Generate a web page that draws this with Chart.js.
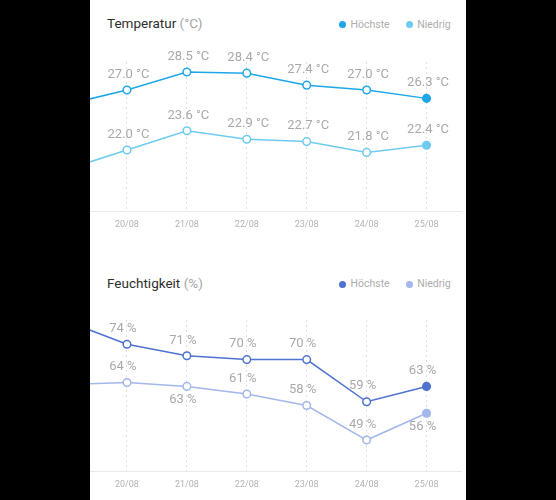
<!DOCTYPE html>
<html>
<head>
<meta charset="utf-8">
<script src="https://cdn.jsdelivr.net/npm/chart.js@4.4.1/dist/chart.umd.min.js"></script>
<style>
  html, body { margin: 0; padding: 0; background: #000; }
  body { width: 556px; height: 500px; position: relative; overflow: hidden; font-family: Roboto, "Noto Sans", sans-serif; }
  #panel { position: absolute; left: 90px; top: 0; width: 376px; height: 500px; background: #fff; }
  .title { position: absolute; left: 17px; font-size: 13.5px; line-height: 16px; color: #2e2e2e; white-space: nowrap; }
  .title span { color: #a5a5a5; }
  .legend { position: absolute; left: 249px; display: flex; gap: 16px; font-size: 10.5px; line-height: 12px; color: #adadad; }
  .legend .item { display: flex; align-items: center; }
  .legend .dot { width: 7px; height: 7px; border-radius: 50%; margin-right: 4.5px; }
  canvas { position: absolute; left: 0; }
</style>
</head>
<body>
<div id="panel">
  <div class="title" style="top:15px">Temperatur <span>(°C)</span></div>
  <div class="legend" id="tempLegend" style="top:18.5px"></div>
  <canvas id="tempChart" width="372" height="190" style="top:50px"></canvas>

  <div class="title" style="top:275px">Feuchtigkeit <span>(%)</span></div>
  <div class="legend" id="humLegend" style="top:278px"></div>
  <canvas id="humChart" width="372" height="190" style="top:310px"></canvas>
</div>
<script>
// first date is the day before, only its line stub shows at the left edge
const dates = ['19/08', '20/08', '21/08', '22/08', '23/08', '24/08', '25/08'];
const tempHigh = [25.8, 27.0, 28.5, 28.4, 27.4, 27.0, 26.3];
const tempLow = [20.4, 22.0, 23.6, 22.9, 22.7, 21.8, 22.4];
const humHigh = [80, 74, 71, 70, 70, 59, 63];
const humLow = [63.5, 64, 63, 61, 58, 49, 56];
const seriesNames = ['Höchste', 'Niedrig'];

const tempColors = ['#1ea7e8', '#6ecbf0'];
const humColors = ['#4e72d0', '#a3b7ec'];
// where each value label sits relative to its point
const humLowLabelSide = ['top', 'top', 'bottom', 'top', 'top', 'top', 'bottom'];

Chart.defaults.font.family = 'Roboto, "Noto Sans", sans-serif';

function fillLegend(id, colors) {
  const el = document.getElementById(id);
  seriesNames.forEach((name, k) => {
    const item = document.createElement('div');
    item.className = 'item';
    item.innerHTML = '<span class="dot" style="background:' + colors[k] + '"></span>' + name;
    el.appendChild(item);
  });
}

const baseLine = {
  id: 'baseLine',
  beforeDatasetsDraw(chart) {
    const { ctx, chartArea, width } = chart;
    ctx.save();
    ctx.strokeStyle = '#e9e9e9';
    ctx.lineWidth = 1;
    ctx.beginPath();
    ctx.moveTo(0, chartArea.bottom + 0.5);
    ctx.lineTo(width, chartArea.bottom + 0.5);
    ctx.stroke();
    ctx.restore();
  }
};

const valueLabels = {
  id: 'valueLabels',
  afterDatasetsDraw(chart, args, opts) {
    const { ctx, chartArea } = chart;
    ctx.save();
    ctx.font = '13px Roboto';
    ctx.fillStyle = '#a9a9a9';
    ctx.textAlign = 'center';
    ctx.textBaseline = 'middle';
    chart.data.datasets.forEach((ds, di) => {
      const sides = (opts.sides && opts.sides[di]) || [];
      chart.getDatasetMeta(di).data.forEach((pt, i) => {
        if (pt.x < chartArea.left) return;
        const y = sides[i] === 'bottom' ? pt.y + 13.5 : pt.y - 15.5;
        ctx.fillText(opts.format(ds.data[i]), pt.x + opts.dx, y);
      });
    });
    ctx.restore();
  }
};

function makeChart(id, high, low, colors, yMin, yMax, padTop, labelOpts) {
  const last = dates.length - 1;
  return new Chart(document.getElementById(id), {
    type: 'line',
    data: {
      labels: dates,
      datasets: [high, low].map((data, k) => ({
        label: seriesNames[k],
        data: data,
        borderColor: colors[k],
        borderWidth: 1.5,
        pointBackgroundColor: dates.map((d, i) => i === last ? colors[k] : '#fff'),
        pointBorderColor: colors[k],
        pointBorderWidth: 1.5,
        pointRadius: 3.8,
        tension: 0,
        clip: false
      }))
    },
    options: {
      responsive: false,
      animation: false,
      layout: { padding: { top: padTop, left: 7, right: 3, bottom: 0 } },
      plugins: {
        legend: { display: false },
        tooltip: { enabled: false },
        valueLabels: labelOpts
      },
      scales: {
        x: {
          offset: true,
          min: '20/08',
          grid: { color: '#dedede', drawTicks: false },
          border: { display: false, dash: [2, 3] },
          ticks: { color: '#b3b3b3', font: { size: 9 }, padding: 8 },
          afterFit: (s) => { s.height = 29; }
        },
        y: { display: false, min: yMin, max: yMax }
      }
    },
    plugins: [baseLine, valueLabels]
  });
}

fillLegend('tempLegend', tempColors);
fillLegend('humLegend', humColors);

makeChart('tempChart', tempHigh, tempLow, tempColors, 16.92, 29.33, 12, {
  dx: 1.5,
  format: (v) => v.toFixed(1) + ' °C'
});

makeChart('humChart', humHigh, humLow, humColors, 40.92, 80.34, 10, {
  dx: -4,
  sides: [null, humLowLabelSide],
  format: (v) => v + ' %'
});
</script>
</body>
</html>
